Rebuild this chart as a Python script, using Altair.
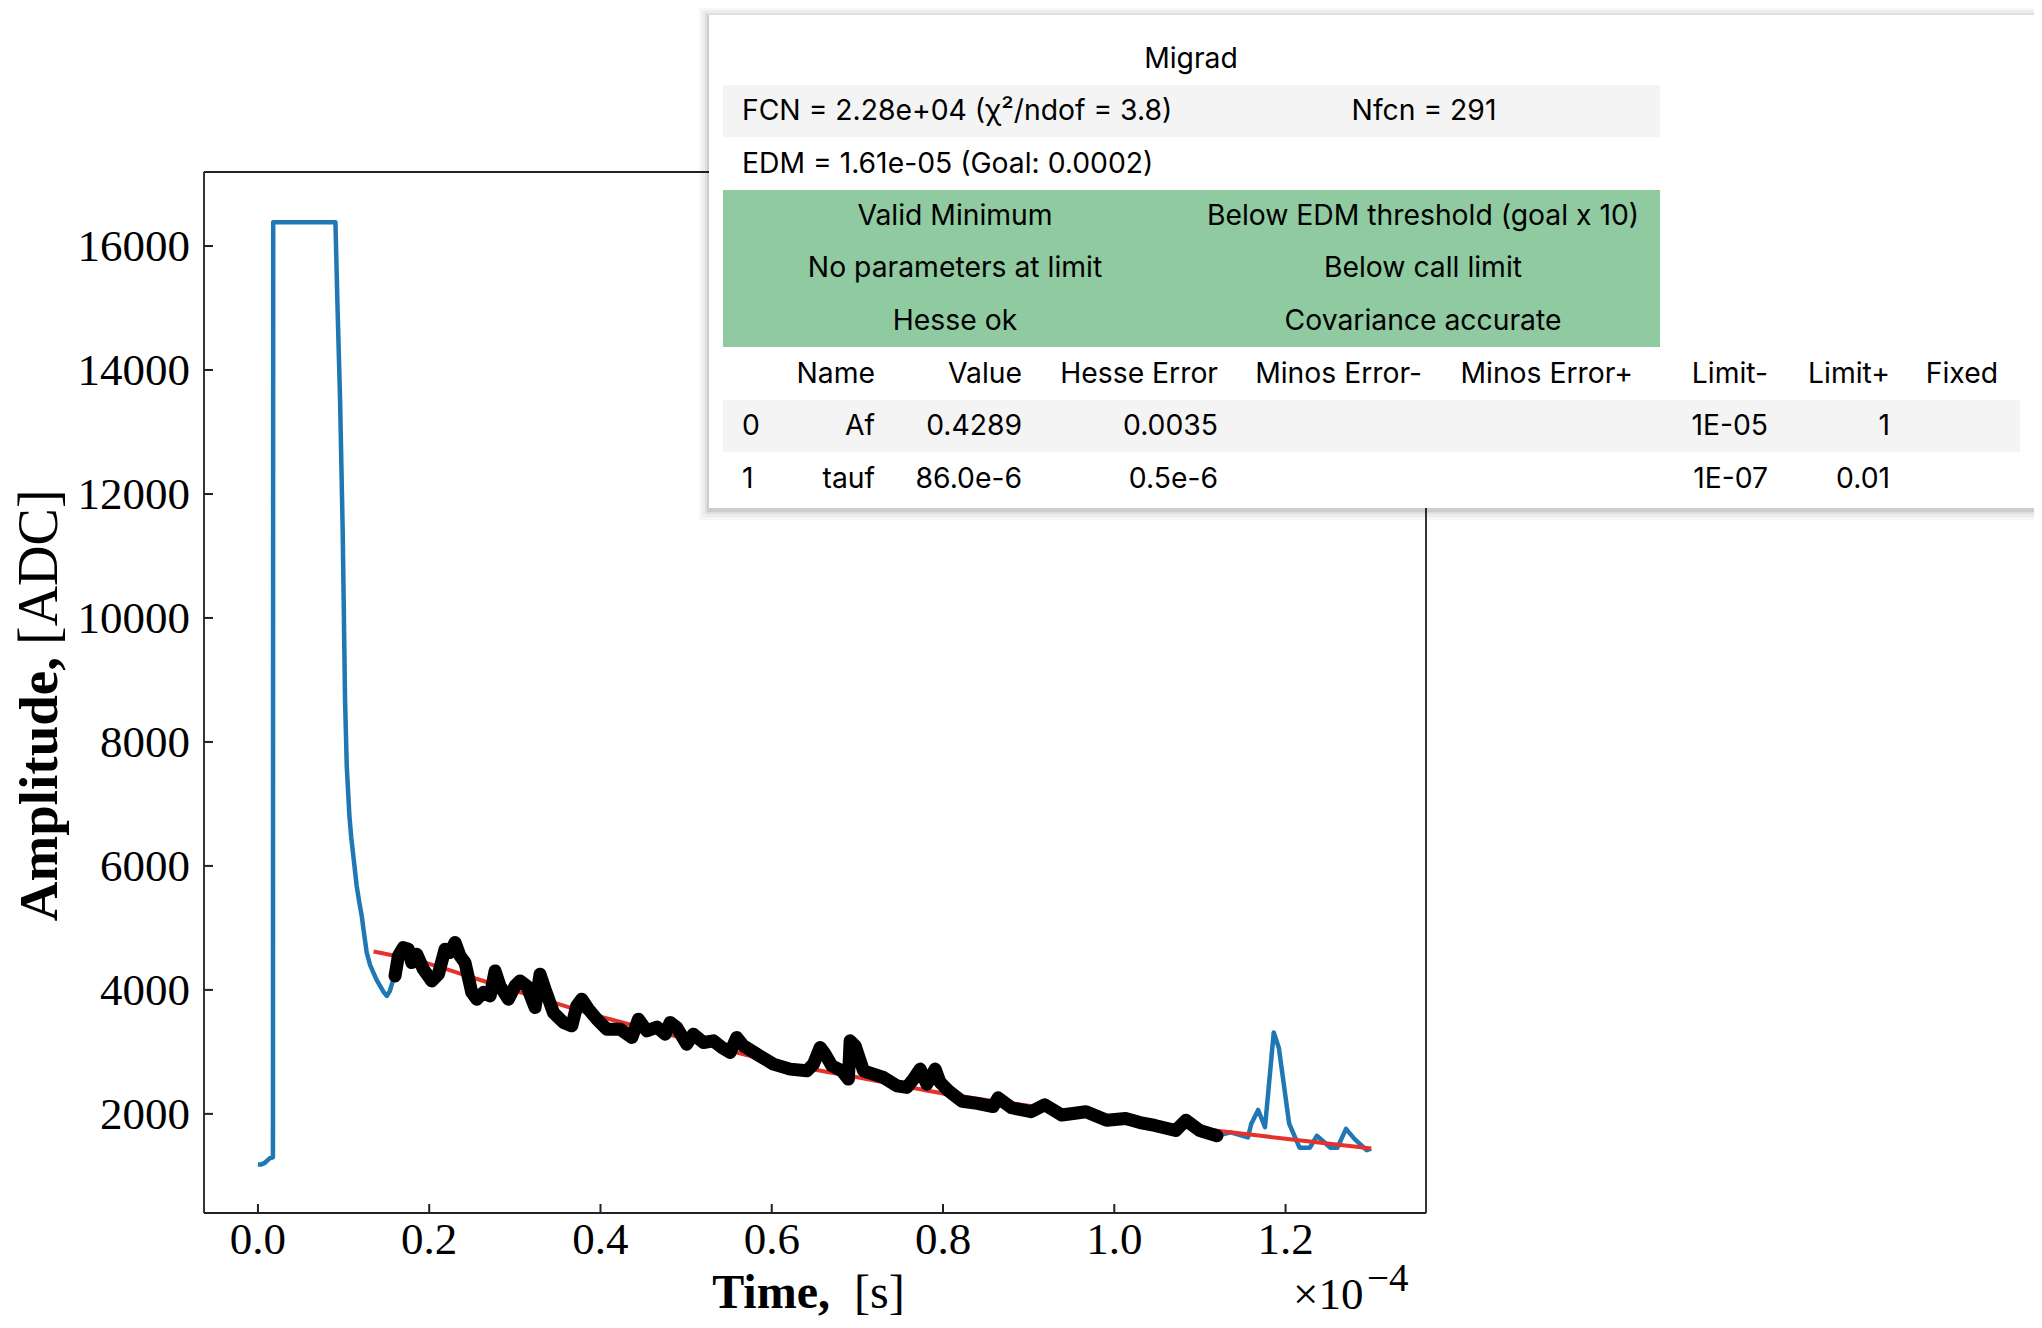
import altair as alt
import pandas as pd

# ---------------- data ----------------
# waveform: time in units of 1e-4 s, amplitude in ADC counts
wave_t = [0.000, 0.004, 0.008, 0.011, 0.014, 0.0175, 0.0178, 0.0905, 0.0927, 0.0959,
          0.0990, 0.1017, 0.1037, 0.1068, 0.1090, 0.1114, 0.1153, 0.1185, 0.1212, 0.1240,
          0.1270, 0.1310, 0.1348, 0.1390, 0.1426, 0.1470, 0.1504, 0.1540, 0.1581,
          0.1601, 0.1640, 0.1698, 0.1757, 0.1796, 0.1854, 0.1932, 0.2030, 0.2107, 0.2185,
          0.2243, 0.2302, 0.2360, 0.2418, 0.2497, 0.2555, 0.2633, 0.2711, 0.2769, 0.2827,
          0.2925, 0.3003, 0.3061, 0.3139, 0.3236, 0.3294, 0.3353, 0.3450, 0.3567, 0.3665,
          0.3723, 0.3781, 0.3859, 0.3957, 0.4073, 0.4229, 0.4366, 0.4443, 0.4540, 0.4660,
          0.4754, 0.4813, 0.4890, 0.5007, 0.5085, 0.5202, 0.5319, 0.5416, 0.5514, 0.5591,
          0.5669, 0.5825, 0.6019, 0.6214, 0.6409, 0.6487, 0.6565, 0.6623, 0.6701, 0.6818,
          0.6895, 0.6915, 0.6974, 0.7071, 0.7188, 0.7304, 0.7460, 0.7577, 0.7655, 0.7733,
          0.7811, 0.7908, 0.7966, 0.8064, 0.8223, 0.8400, 0.8585, 0.8644, 0.8800, 0.9027,
          0.9187, 0.9388, 0.9670, 0.9911, 1.0133, 1.0300, 1.0474, 1.0716, 1.0836, 1.0997,
          1.1198,
          1.1359, 1.1560, 1.1600, 1.1680, 1.1760, 1.1862, 1.1922, 1.2042, 1.2163, 1.2284,
          1.2365, 1.2525, 1.2605, 1.2706, 1.2807, 1.2947, 1.3000]
wave_a = [1185, 1185, 1210, 1250, 1285, 1300, 16383, 16383, 15131, 13519,
          11376, 8685, 7610, 6804, 6450, 6160, 5676, 5400, 5193, 4900,
          4603, 4400, 4280, 4150, 4064, 3960, 3903, 3980, 4172,
          4226, 4548, 4683, 4656, 4441, 4575, 4333, 4145, 4253, 4656,
          4603, 4764, 4548, 4441, 3958, 3850, 3958, 3903, 4306, 4064,
          3850, 4064, 4145, 4064, 3716, 4253, 4011, 3635, 3474, 3420,
          3742, 3850, 3689, 3528, 3367, 3367, 3233, 3528, 3340, 3400,
          3286, 3474, 3394, 3125, 3286, 3152, 3178, 3072, 2991, 3233,
          3098, 2964, 2803, 2722, 2695, 2803, 3072, 2964, 2776, 2695,
          2561, 3178, 3098, 2695, 2641, 2588, 2453, 2427, 2561, 2722,
          2480, 2722, 2507, 2372, 2203, 2170, 2119, 2258, 2100, 2035,
          2147, 1981, 2035, 1897, 1924, 1860, 1813, 1731, 1897, 1731,
          1647,
          1703, 1620, 1842, 2063, 1786, 3312, 3062, 1842, 1454, 1454,
          1647, 1454, 1454, 1758, 1592, 1415, 1440]
fit_lo, fit_hi = 0.160, 1.120          # fit range (black points)

# fitted exponential model (red)
model_t = [0.135, 0.20, 0.25, 0.30, 0.40, 0.50, 0.60, 0.70, 0.80, 0.90, 1.00, 1.10, 1.20, 1.30]
model_a = [4620, 4420, 4200, 3990, 3570, 3210, 2850, 2590, 2330, 2130, 1935, 1760, 1600, 1442]

x_ticks = [0.0, 0.2, 0.4, 0.6, 0.8, 1.0, 1.2]
x_tick_labels = ["0.0", "0.2", "0.4", "0.6", "0.8", "1.0", "1.2"]
y_ticks = [2000, 4000, 6000, 8000, 10000, 12000, 14000, 16000]
y_tick_labels = ["2000", "4000", "6000", "8000", "10000", "12000", "14000", "16000"]

# Migrad result table
migrad_title = "Migrad"
fcn_text = "FCN = 2.28e+04 (χ²/ndof = 3.8)"
nfcn_text = "Nfcn = 291"
edm_text = "EDM = 1.61e-05 (Goal: 0.0002)"
status_left = ["Valid Minimum", "No parameters at limit", "Hesse ok"]
status_right = ["Below EDM threshold (goal x 10)", "Below call limit", "Covariance accurate"]
col_headers = ["Name", "Value", "Hesse Error", "Minos Error-", "Minos Error+", "Limit-", "Limit+", "Fixed"]
par_index = ["0", "1"]
par_names = ["Af", "tauf"]
par_values = ["0.4289", "86.0e-6"]
par_hesse = ["0.0035", "0.5e-6"]
par_lim_lo = ["1E-05", "1E-07"]
par_lim_hi = ["1", "0.01"]

assert len(wave_t) == len(wave_a)

# ---------------- layout ----------------
W, H = 1222, 1041
SERIF = "Liberation Serif"
SANS = "Inter"

df = pd.DataFrame({"t": wave_t, "a": wave_a})
df["i"] = range(len(df))
fit_df = df[(df.t >= fit_lo) & (df.t <= fit_hi)]
model_df = pd.DataFrame({"t": model_t, "a": model_a})
one = pd.DataFrame({"k": [0]})

xs = alt.Scale(domain=[-0.063, 1.364], nice=False, zero=False)
ys = alt.Scale(domain=[401, 17194], nice=False, zero=False)
X = alt.X("t:Q", scale=xs, axis=None)
Y = alt.Y("a:Q", scale=ys, axis=None)

blue = alt.Chart(df).mark_line(color="#1f77b4", strokeWidth=4.5, strokeJoin="round").encode(
    x=X, y=Y, order="i:Q")
red = alt.Chart(model_df).mark_line(color="#e5322a", strokeWidth=4,
                                    interpolate="monotone").encode(x=X, y=Y)
black = alt.Chart(fit_df).mark_line(color="#000", strokeWidth=13, strokeCap="round",
                                    strokeJoin="round").encode(x=X, y=Y, order="i:Q")

# inward ticks
xt_df = pd.DataFrame({"t": x_ticks, "lab": x_tick_labels})
yt_df = pd.DataFrame({"a": y_ticks, "lab": y_tick_labels})
xt = alt.Chart(xt_df).mark_rule(color="#222", strokeWidth=2).encode(
    x=X, y=alt.value(H), y2=alt.value(H - 9))
yt = alt.Chart(yt_df).mark_rule(color="#222", strokeWidth=2).encode(
    y=Y, x=alt.value(0), x2=alt.value(9))
# tick labels
xl = alt.Chart(xt_df).mark_text(font=SERIF, fontSize=45, color="#000", align="center",
                                baseline="alphabetic").encode(
    x=X, y=alt.value(H + 41), text="lab:N")
yl = alt.Chart(yt_df).mark_text(font=SERIF, fontSize=45, color="#000", align="right",
                                baseline="alphabetic", dy=15).encode(
    y=Y, x=alt.value(-14), text="lab:N")

layers = [blue, red, black, xt, yt, xl, yl]

# frame
for (x1, x2, y1, y2) in [(0, W, 0, 0), (0, W, H, H), (0, 0, 0, H), (W, W, 0, H)]:
    layers.append(alt.Chart(one).mark_rule(color="#222", strokeWidth=1.8).encode(
        x=alt.value(x1), x2=alt.value(x2), y=alt.value(y1), y2=alt.value(y2)))


def txt(s, x, y, size, font, align="left", baseline="alphabetic", weight="normal",
        angle=0, color="#000"):
    return alt.Chart(one).mark_text(text=s, fontSize=size, font=font, align=align,
                                    baseline=baseline, fontWeight=weight, angle=angle,
                                    color=color).encode(x=alt.value(x), y=alt.value(y))


def box(x1, x2, y1, y2, color, opacity=1.0):
    return alt.Chart(one).mark_rect(color=color, opacity=opacity).encode(
        x=alt.value(x1), x2=alt.value(x2), y=alt.value(y1), y2=alt.value(y2))


# axis titles and offset text
layers += [
    txt("Time,", 626, 1136, 48, SERIF, align="right", weight="bold"),
    txt("[s]", 650, 1136, 48, SERIF, align="left"),
    txt("Amplitude,", -164, 485, 55, SERIF, align="right", baseline="middle",
        weight="bold", angle=270),
    txt("[ADC]", -164, 473, 56, SERIF, align="left", baseline="middle", angle=270),
    txt("×10", 1089, 1137, 45, SERIF, align="left"),
    txt("−4", 1163, 1119, 39, SERIF, align="left"),
]

# table: shadow, background, row fills
TX1, TX2, TY1, TY2 = 505, 1850, -157, 336
for d, op in [(10, 0.03), (7, 0.04), (4, 0.06), (2, 0.08)]:
    layers.append(box(TX1 - d, TX2 + d, TY1 - d + 2, TY2 + d + 2, "#000", op))
layers.append(box(TX1, TX2, TY1, TY2, "#ffffff"))
layers.append(box(519, 1456, -87, -35, "#f4f4f4"))
layers.append(box(519, 1456, 18, 175, "#8fcaa1"))
layers.append(box(519, 1816, 228, 280, "#f4f4f4"))

FS = 28.3
layers.append(txt(migrad_title, 987, -112, FS, SANS, align="center", baseline="middle"))
layers.append(txt(fcn_text, 538, -60, FS, SANS, align="left", baseline="middle"))
layers.append(txt(nfcn_text, 1220, -60, FS, SANS, align="center", baseline="middle"))
layers.append(txt(edm_text, 538, -7, FS, SANS, align="left", baseline="middle"))
for k, yy in enumerate([45, 97, 150]):
    layers.append(txt(status_left[k], 751, yy, FS, SANS, align="center", baseline="middle"))
    layers.append(txt(status_right[k], 1219, yy, FS, SANS, align="center", baseline="middle"))

col_right = [671, 818, 1014, 1218, 1429, 1564, 1686, 1794]
for h, xr in zip(col_headers, col_right):
    layers.append(txt(h, xr, 203, FS, SANS, align="right", baseline="middle"))
for k, yy in enumerate([255, 308]):
    layers.append(txt(par_index[k], 538, yy, FS, SANS, align="left", baseline="middle"))
    for val, xr in [(par_names[k], 671), (par_values[k], 818), (par_hesse[k], 1014),
                    (par_lim_lo[k], 1564), (par_lim_hi[k], 1686)]:
        layers.append(txt(val, xr, yy, FS, SANS, align="right", baseline="middle"))

chart = alt.layer(*layers).properties(
    width=W, height=H,
    autosize=alt.AutoSizeParams(type="none"),
    padding={"left": 196, "top": 164, "right": 608, "bottom": 107},
).configure_view(stroke=None).configure(background="#ffffff")

chart.save("out.html", embed_options={"renderer": "svg", "actions": False})
